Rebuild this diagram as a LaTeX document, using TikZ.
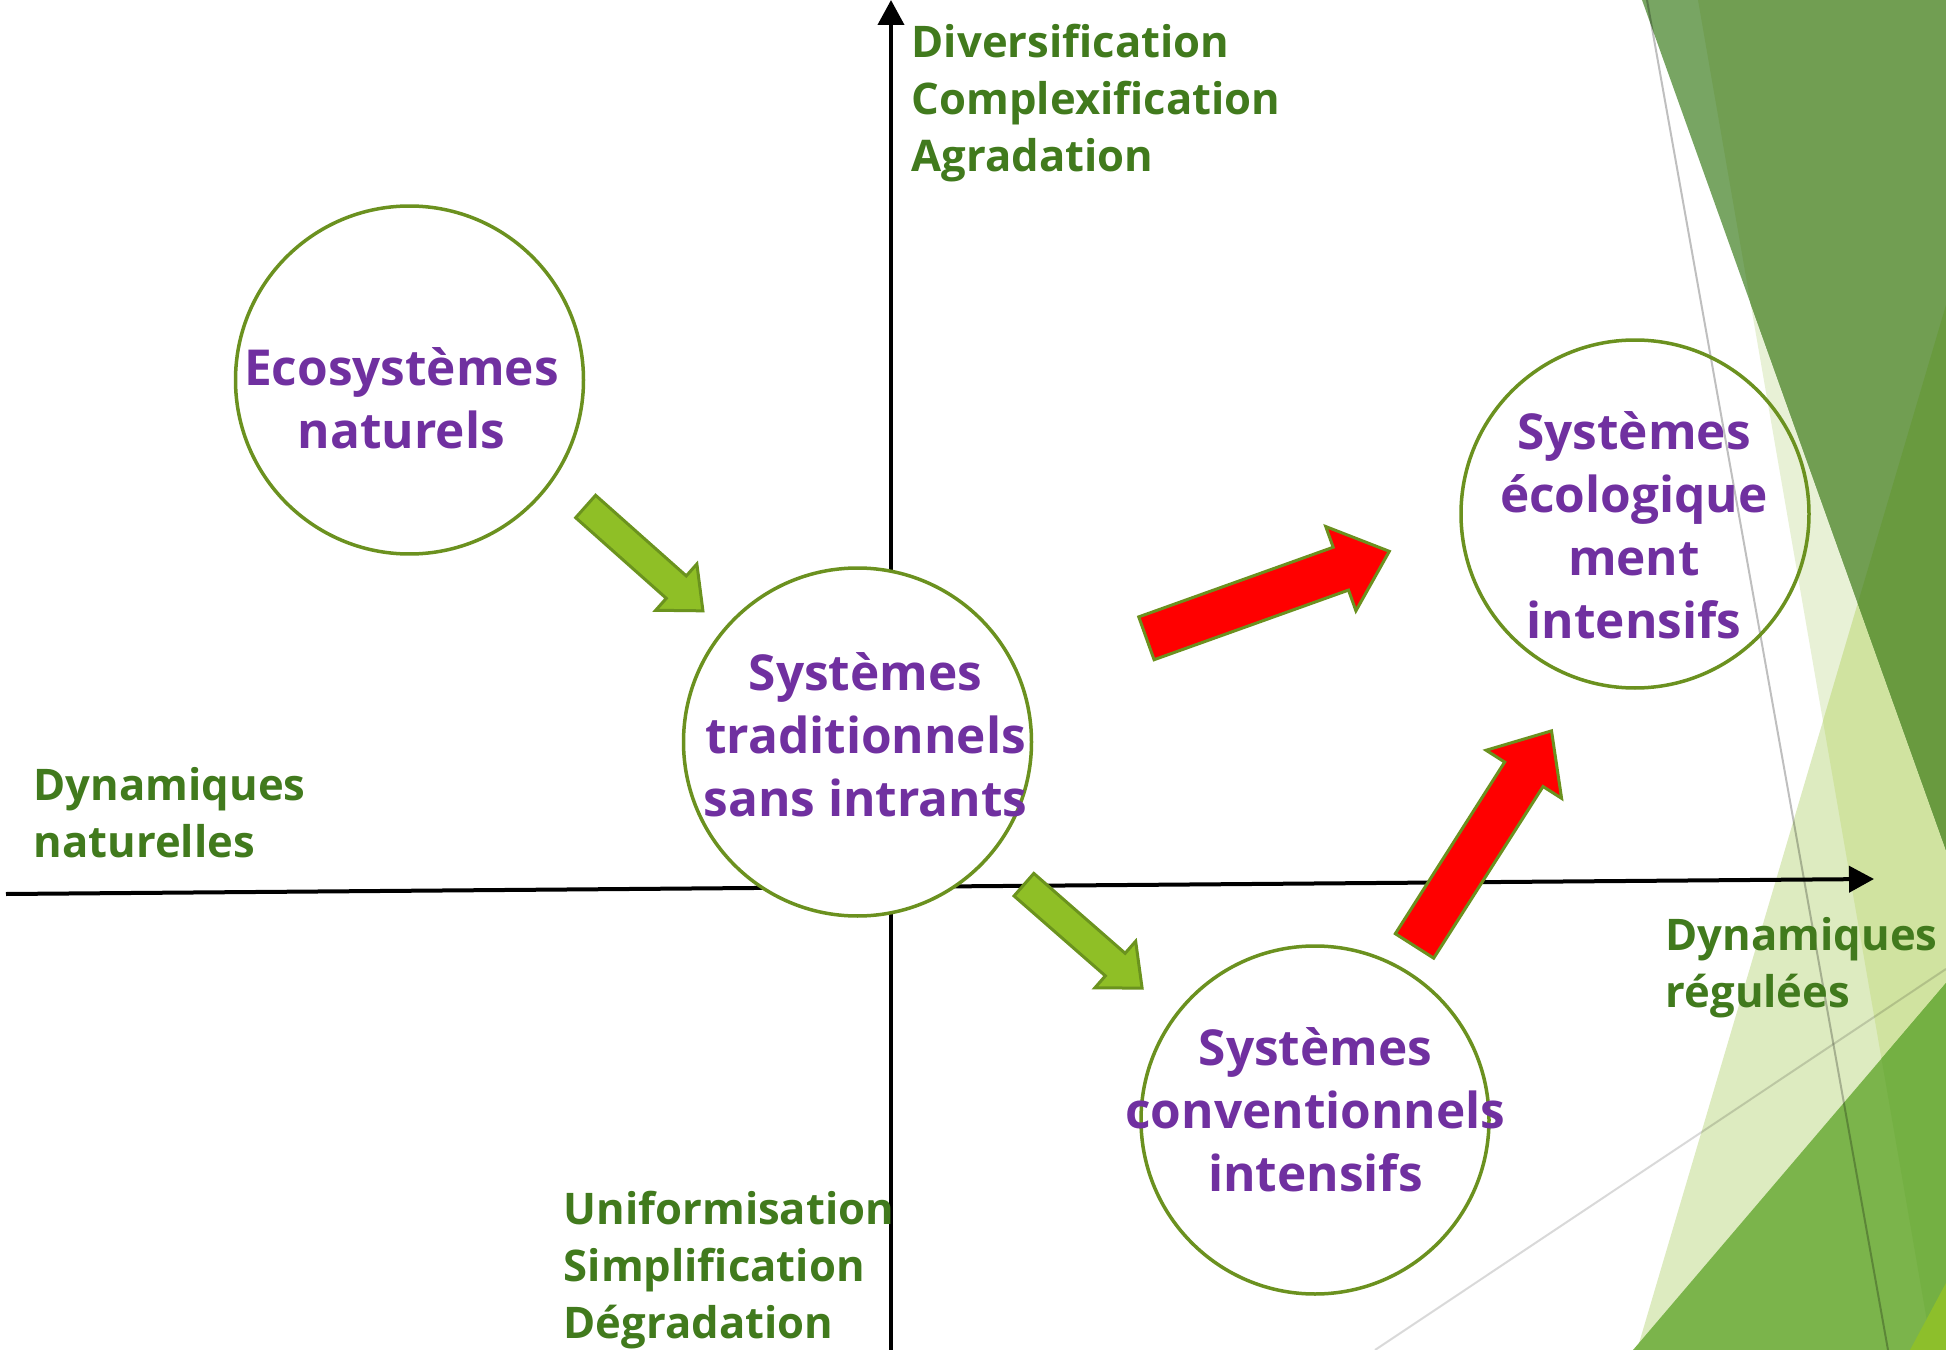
\documentclass[tikz,border=0pt]{standalone}
\usepackage{fontspec}
\setmainfont{Open Sans}
\usetikzlibrary{shapes.arrows,arrows.meta}
\definecolor{purp}{HTML}{7030A0}
\definecolor{txtgreen}{HTML}{417A1D}
\definecolor{olive}{HTML}{6B911F}
\definecolor{arrgreen}{HTML}{8FBF26}
\definecolor{arrline}{HTML}{6B931E}
\definecolor{tonec}{HTML}{E8F1D6}
\definecolor{ttwoc}{HTML}{DDEBC0}
\definecolor{tonetwoc}{HTML}{D0E3A0}
\definecolor{dstripc}{HTML}{78A563}
\definecolor{dmainc}{HTML}{719E52}
\definecolor{dtwoc}{HTML}{699A3F}
\definecolor{tthreec}{HTML}{7BB44B}
\definecolor{tonethreec}{HTML}{74B043}
\definecolor{cornerc}{HTML}{8DBF2B}
\newcommand\purpfont{\bfseries\fontsize{14.1}{17.93}\selectfont}
\newcommand\greenfont{\bfseries\fontsize{12.4}{16.22}\selectfont}
\begin{document}
\begin{tikzpicture}[x=0.1mm,y=-0.1mm,
  circ/.style={circle, draw=olive, line width=0.35mm, minimum size=34.8mm, inner sep=0pt},
  ptext/.style={text=purp, font=\purpfont, align=center, inner sep=0pt, anchor=north},
  gtext/.style={text=txtgreen, font=\greenfont, align=left, inner sep=0pt, anchor=north west},
  axis/.style={line width=0.4mm, -{Triangle[length=2.5mm,width=2.6mm]}},
  blockarrow/.style={single arrow, line width=0.3mm, inner sep=0pt, text depth=0pt, anchor=tail, single arrow tip angle=82},
  garrow/.style={blockarrow, draw=arrline, fill=arrgreen, text height=2.7mm, minimum width=5.9mm, single arrow head extend=1.6mm, minimum height=15.7mm},
  rarrow/.style={blockarrow, draw=olive, fill=red, text height=4.25mm, minimum width=8.65mm, single arrow head extend=2.2mm},
  thinline/.style={black, line width=0.2mm}
]
\useasboundingbox (0,0) rectangle (1946,1350);
\fill[white] (0,0) rectangle (1946,1350);

% ---- decorative background triangles ----
\coordinate (A1) at (1698,0);    \coordinate (A2) at (1932,1350);
\coordinate (A3) at (1946,1350); \coordinate (A4) at (1946,0);
\coordinate (B1) at (1946,305);  \coordinate (B2) at (1637,1350);
\coordinate (D1) at (1642,0);    \coordinate (D2) at (1946,850);
\coordinate (E1) at (1633,1350); \coordinate (E2) at (1946,983);
\coordinate (F1) at (1910,1350); \coordinate (F2) at (1946,1283);
\fill[tonec] (A1) -- (A2) -- (A3) -- (A4) -- cycle;
\fill[ttwoc] (B1) -- (B2) -- (A3) -- cycle;
\begin{scope}
  \clip (A1) -- (A2) -- (A3) -- (A4) -- cycle;
  \fill[tonetwoc] (B1) -- (B2) -- (A3) -- cycle;
\end{scope}
\fill[dstripc] (D1) -- (A4) -- (D2) -- cycle;
\begin{scope}
  \clip (A1) -- (A2) -- (A3) -- (A4) -- cycle;
  \fill[dmainc] (D1) -- (A4) -- (D2) -- cycle;
\end{scope}
\begin{scope}
  \clip (B1) -- (B2) -- (A3) -- cycle;
  \fill[dtwoc] (D1) -- (A4) -- (D2) -- cycle;
\end{scope}
\fill[tthreec] (E1) -- (E2) -- (A3) -- cycle;
\begin{scope}
  \clip (A1) -- (A2) -- (A3) -- (A4) -- cycle;
  \fill[tonethreec] (E1) -- (E2) -- (A3) -- cycle;
\end{scope}
\fill[cornerc] (F1) -- (F2) -- (A3) -- cycle;
\coordinate (G1) at (1647,0);   \coordinate (G2) at (1888,1350);
\coordinate (H1) at (1375,1350); \coordinate (H2) at (1946,969);
\draw[thinline, opacity=0.25] (G1) -- (G2);
\draw[thinline, opacity=0.15] (H1) -- (H2);

% ---- axes ----
\coordinate (vbot) at (891,1350);
\coordinate (vtop) at (891,0);
\coordinate (hleft) at (6,894);
\coordinate (hright) at (1874,879);
\draw[axis] (vbot) -- (vtop);
\draw[axis] (hleft) -- (hright);

% ---- circles ----
\node[circ] (c1) at (409.5,380) {};
\node[circ, fill=white] (c2) at (857.5,742) {};
\node[circ] (c3) at (1635,514) {};
\node[circ] (c4) at (1315,1120) {};

% ---- block arrows ----
\node[garrow, rotate=-41.65] (g1) at (584.5,505.5) {};
\node[garrow, rotate=-41.18] (g2) at (1022.8,883.7) {};
\node[rarrow, rotate=19.7, minimum height=25.8mm] (r1) at (1145,638.8) {};
\node[rarrow, rotate=57.5, minimum height=25.5mm] (r2) at (1413.7,947.2) {};

% ---- circle texts ----
\node[ptext] (t1) at (401.5,341) {\strut Ecosystèmes\\naturels};
\node[ptext] (t2) at (865.6,646) {\strut Systèmes\\traditionnels\\sans intrants};
\node[ptext] (t3) at (1634,405) {\strut Systèmes\\écologique\\ment\\intensifs};
\node[ptext] (t4) at (1315.5,1021) {\strut Systèmes\\conventionnels\\intensifs};

% ---- axis labels ----
\node[gtext] (ltop) at (911,17) {\strut Diversification\\Complexification\\Agradation};
\node[gtext] (lleft) at (33,760) {\strut Dynamiques\\naturelles};
\node[gtext] (lbot) at (563,1184) {\strut Uniformisation\\Simplification\\Dégradation};
\node[gtext] (lright) at (1665,910) {\strut Dynamiques\\régulées};
\end{tikzpicture}
\end{document}
